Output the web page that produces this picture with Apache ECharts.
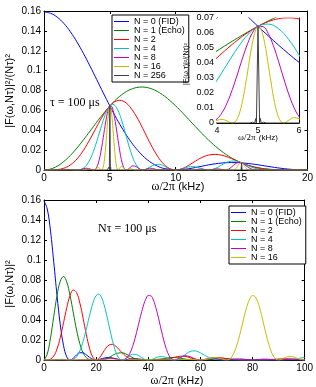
<!DOCTYPE html>
<html><head><meta charset="utf-8">
<script src="https://cdn.jsdelivr.net/npm/echarts@6/dist/echarts.min.js"></script>
<style>html,body{margin:0;padding:0;background:#fff}#c{width:316px;height:387px}</style>
</head><body><div id="c"></div>
<script>
// ---------- series names / tick settings ----------
const seriesNames = ['N = 0 (FID)', 'N = 1 (Echo)', 'N = 2', 'N = 4', 'N = 8', 'N = 16', 'N = 256'];
const topXTicks = [0, 20, 5];      // min, max, interval (kHz)
const topYTicks = [0, 0.16, 0.02];
const insetXTicks = [4, 6, 1];
const insetYTicks = [0, 0.07, 0.01];
const botXTicks = [0, 100, 20];
const botYTicks = [0, 0.16, 0.02];

// ---------- upper panel: tau = 100 us, [frequency kHz, value] ----------
const topFID = [[0,0.159],[0.5,0.15769],[1,0.15383],[1.5,0.14758],[2,0.13915],[2.5,0.12888],[3,0.11716],[3.5,0.1044],[3.75,0.097782],[4,0.091074],[4.25,0.084329],[4.5,0.077609],[4.75,0.070963],[5,0.06444],[5.25,0.058089],[5.5,0.051953],[5.75,0.04607],[6,0.040477],[6.25,0.035202],[6.5,0.030271],[7,0.021519],[7.5,0.01432],[8,0.0086966],[8.5,0.0045958],[9,0.0018992],[9.5,0.0004368],[10,0],[10.5,0.00035756],[11,0.0012713],[11.5,0.0025107],[12,0.0038652],[12.5,0.0051552],[13,0.0062393],[13.5,0.0070175],[14,0.0074346],[14.5,0.0074747],[15,0.00716],[15.5,0.0065414],[16,0.0056921],[16.5,0.0046977],[17,0.0036486],[17.5,0.0026302],[18,0.0017178],[18.5,0.00097018],[19,0.00042613],[19.5,0.00010367],[20,0]];
const topN1 = [[0,0],[0.5,0.000977],[1,0.0038613],[1.5,0.008509],[2,0.014694],[2.5,0.022119],[3,0.030426],[3.5,0.03922],[3.75,0.043672],[4,0.048091],[4.25,0.052426],[4.5,0.056632],[4.75,0.060659],[5,0.064463],[5.25,0.068005],[5.5,0.071246],[5.75,0.074157],[6,0.076708],[6.25,0.078874],[6.5,0.080638],[7,0.082916],[7.5,0.083493],[8,0.082405],[8.5,0.079762],[9,0.075736],[9.5,0.07055],[10,0.064463],[10.5,0.057752],[11,0.0507],[11.5,0.043574],[12,0.036624],[12.5,0.030057],[13,0.024041],[13.5,0.018694],[14,0.014089],[14.5,0.010251],[15,0.0071625],[15.5,0.0047734],[16,0.0030056],[16.5,0.0017647],[17,0.00094751],[17.5,0.00045142],[18,0.00018141],[18.5,0.00005594],[19,0.0000107],[19.5,0.0000006],[20,0]];
const topN2 = [[0,0],[0.5,0.0000239],[1,0.00036872],[1.5,0.0017538],[2,0.0050766],[2.5,0.01106],[3,0.019914],[3.5,0.031136],[3.75,0.037276],[4,0.043499],[4.25,0.049569],[4.5,0.055246],[4.75,0.060285],[5,0.064463],[5.25,0.067586],[5.5,0.069503],[5.75,0.070115],[6,0.069383],[6.25,0.067323],[6.5,0.064018],[7,0.054269],[7.5,0.041747],[8,0.02847],[8.5,0.01644],[9,0.007232],[9.5,0.0017264],[10,0],[10.5,0.0014132],[11,0.0048413],[11.5,0.008981],[12,0.012653],[12.5,0.015029],[13,0.015735],[13.5,0.014841],[14,0.012744],[14.5,0.01],[15,0.0071625],[15.5,0.0046566],[16,0.0027186],[16.5,0.001401],[17,0.00062015],[17.5,0.00022571],[18,0.00006268],[18.5,0.0000115],[19,0],[20,0]];
const topN4 = [[0,0],[0.5,0.0000216],[1,0.00024133],[1.5,0.00060592],[2,0.00048477],[2.25,0.00018861],[2.5,0],[2.75,0.0003705],[3,0.0019016],[3.25,0.0052127],[3.5,0.010757],[3.75,0.018638],[4,0.028471],[4.25,0.039352],[4.5,0.049971],[4.75,0.05881],[5,0.064463],[5.25,0.065932],[5.5,0.062866],[5.75,0.055664],[6,0.045412],[6.25,0.033662],[6.5,0.022118],[6.75,0.012285],[7,0.0051821],[7.25,0.0011803],[7.5,0],[7.75,0.00085821],[8,0.0027186],[8.25,0.0045728],[8.5,0.0056799],[8.75,0.005705],[9,0.0047334],[9.5,0.0015616],[10,0],[10.5,0.0012783],[10.75,0.0023473],[11,0.0031687],[11.25,0.0034511],[11.5,0.0031028],[11.75,0.0022542],[12,0.0012082],[12.5,0],[13,0.0015025],[13.5,0.0051274],[14,0.0083411],[14.5,0.0090451],[15,0.0071625],[15.5,0.0042119],[16,0.0017793],[16.5,0.00048403],[17,0.0000592],[17.5,0],[18,0],[20,0]];
const topN8 = [[0,0],[0.25,0],[0.5,0.0000141],[0.75,0.0000327],[1,0.000023],[1.25,0],[1.5,0.0000579],[1.75,0.00022216],[2,0.00031729],[2.25,0.0001706],[2.5,0],[2.75,0.00033512],[3,0.0012446],[3.25,0.0018009],[3.5,0.0010272],[3.75,0],[3.875,0.00057164],[4,0.0027187],[4.125,0.0069814],[4.25,0.013596],[4.375,0.022393],[4.5,0.032707],[4.625,0.043415],[4.75,0.053194],[4.875,0.060613],[5,0.064463],[5.125,0.064183],[5.25,0.059636],[5.375,0.051541],[5.5,0.041146],[5.625,0.029864],[5.75,0.019231],[5.875,0.010476],[6,0.0043364],[6.125,0.00096971],[6.25,0],[6.5,0.0021121],[6.75,0.0042444],[7,0.0033917],[7.25,0.0010676],[7.5,0],[7.75,0.00077626],[8,0.0017793],[8.25,0.0015799],[8.5,0.00054237],[8.75,0],[9,0.000452],[9.25,0.0010953],[9.5,0.0010221],[9.75,0.00036721],[10,0],[10.25,0.00033225],[10.5,0.00083666],[10.75,0.000811],[11,0.00030258],[11.25,0],[11.5,0.00029629],[11.75,0.00077881],[12,0.00079078],[12.25,0.0003107],[12.5,0],[12.75,0.00034517],[13,0.0009834],[13.25,0.0011015],[13.5,0.00048962],[13.75,0],[14,0.00079649],[14.25,0.0031312],[14.5,0.0059201],[14.75,0.0075551],[15,0.0071625],[15.25,0.0051608],[15.5,0.0027567],[15.75,0.00099],[16,0.00016991],[16.25,0],[16.5,0.0000462],[16.75,0.0000678],[17,0.0000387],[17.25,0.0000085],[17.5,0],[20,0]];
const topN16 = [[0,0],[3.125,0],[3.25,0.00017197],[3.375,0.00054754],[3.5,0.00067231],[3.625,0.00031931],[3.75,0],[3.875,0.00051706],[4,0.0017794],[4.125,0.002412],[4.25,0.0012983],[4.375,0],[4.4375,0.00067104],[4.5,0.0031234],[4.5625,0.0078506],[4.625,0.014999],[4.6875,0.02426],[4.75,0.034816],[4.8125,0.045488],[4.875,0.054826],[4.9375,0.061493],[5,0.064463],[5.0625,0.063266],[5.125,0.058056],[5.1875,0.049555],[5.25,0.039033],[5.3125,0.02799],[5.375,0.017808],[5.4375,0.0095826],[5.5,0.0039294],[5.5625,0.00086979],[5.625,0],[5.75,0.0018364],[5.875,0.0036194],[6,0.0028384],[6.125,0.00087714],[6.25,0],[6.375,0.00061466],[6.5,0.0013823],[6.625,0.0012042],[6.75,0.00040531],[6.875,0],[14.375,0],[14.5,0.00056538],[14.625,0.0024],[14.75,0.004945],[14.875,0.0069],[15,0.0071625],[15.125,0.0057],[15.25,0.0033779],[15.375,0.00136],[15.5,0.00026327],[15.625,0],[20,0]];
const topN256 = [[0,0],[4.8,0],[4.8438,0],[4.8645,0.00053],[4.8828,0],[4.9039,0.00105],[4.9219,0],[4.9441,0.00296],[4.9609,0],[5,0.064463],[5.0391,0],[5.0559,0.00308],[5.0781,0],[5.0961,0.0011],[5.1172,0],[5.1355,0.00056],[5.1563,0],[5.2,0],[14.961,0],[15,0.0071625],[15.039,0],[20,0]];

// ---------- lower panel: N*tau = 100 us ----------
const botFID = [[0,0.159],[1.25,0.15099],[2.5,0.12888],[3.75,0.097782],[5,0.06444],[6.25,0.035202],[7.5,0.01432],[8.75,0.0030815],[10,0],[11.25,0.0018641],[12.5,0.0051552],[13.75,0.0072731],[15,0.00716],[16.25,0.0052073],[17.5,0.0026302],[18.75,0.00067109],[20,0],[22.5,0.0015911],[25,0.0025776],[27.5,0.0010651],[30,0],[32.5,0.0007626],[35,0.0013151],[37.5,0.0005728],[40,0],[42.5,0.00044595],[45,0.00079556],[47.5,0.00035701],[50,0],[52.5,0.00029225],[55,0.00053256],[57.5,0.00024363],[60,0],[62.5,0.00020621],[65,0.0003813],[67.5,0.00017679],[70,0],[72.5,0.00015325],[75,0.0002864],[77.5,0.00013411],[80,0],[82.5,0.00011835],[85,0.00022298],[87.5,0.0001052],[90,0],[92.5,0.0000941],[95,0.0001785],[97.5,0.0000847],[100,0]];
const botN1 = [[0,0],[1.25,0.0059764],[2.5,0.022119],[3.75,0.043672],[5,0.064463],[6.25,0.078874],[7.5,0.08349],[8.75,0.077909],[10,0.06446],[11.25,0.04713],[12.5,0.030056],[13.75,0.016296],[15,0.0071622],[16.25,0.0023258],[17.5,0.0004514],[18.75,0.0000266],[20,0],[22.5,0.00027307],[25,0.0025784],[27.5,0.00621],[30,0.0071622],[32.5,0.0044462],[35,0.0013155],[37.5,0.0000983],[40,0],[42.5,0.0000765],[45,0.0007958],[47.5,0.0020815],[50,0.0025784],[52.5,0.0017039],[55,0.00053273],[57.5,0.0000418],[60,0],[62.5,0.0000354],[65,0.00038142],[67.5,0.0010307],[70,0.0013155],[72.5,0.00089347],[75,0.00028649],[77.5,0.000023],[80,0],[82.5,0.0000203],[85,0.00022304],[87.5,0.00061339],[90,0.0007958],[92.5,0.00054888],[95,0.00017856],[97.5,0.0000145],[100,0]];
const botN2 = [[0,0],[1.25,0.000058],[2.5,0.00087525],[3.75,0.0040185],[5,0.01106],[6.25,0.022533],[7.5,0.037276],[8.75,0.052471],[10,0.064463],[11.25,0.069974],[12.5,0.067323],[13.75,0.057038],[15,0.041747],[16.25,0.025273],[17.5,0.01141],[18.75,0.002738],[20,0],[21.25,0.0021316],[22.5,0.0069022],[23.75,0.011832],[25,0.015029],[26.25,0.01565],[27.5,0.01391],[28.75,0.010714],[30,0.0071625],[31.25,0.0041138],[32.5,0.0019852],[33.75,0.00077278],[35,0.00022571],[36.25,0.000043],[37.5,0.0000039],[40,0],[42.5,0.000003],[45,0.00013654],[47.5,0.00092927],[50,0.0025784],[52.5,0.0038163],[55,0.003105],[57.5,0.0010568],[60,0],[62.5,0.0008945],[65,0.0022231],[67.5,0.0023087],[70,0.0013155],[72.5,0.00039891],[75,0.000049],[77.5,0.000001],[80,0],[82.5,0],[85,0.000038],[87.5,0.00027386],[90,0.0007958],[92.5,0.0012294],[95,0.0010408],[97.5,0.00036756],[100,0]];
const botN4 = [[0,0],[2,0.0000216],[4,0.00024133],[6,0.00060592],[7,0.00064302],[8,0.00048477],[9,0.00018861],[10,0],[11,0.0003705],[12,0.0019016],[13,0.0052127],[14,0.010757],[15,0.018638],[16,0.028471],[17,0.039352],[18,0.049971],[19,0.05881],[20,0.064463],[21,0.065932],[22,0.062866],[23,0.055664],[24,0.045412],[25,0.033662],[26,0.022118],[27,0.012285],[28,0.0051821],[29,0.0011803],[30,0],[31,0.00085821],[32,0.0027186],[33,0.0045728],[34,0.0056799],[35,0.005705],[36,0.0047334],[37,0.0031703],[38,0.0015616],[39,0.00040598],[40,0],[41,0.00036733],[42,0.0012783],[43,0.0023473],[44,0.0031687],[45,0.0034511],[46,0.0031028],[47,0.0022542],[48,0.0012082],[49,0.00034349],[50,0],[51,0.00038161],[52,0.0015025],[53,0.0031883],[54,0.0051274],[55,0.006955],[56,0.0083411],[57,0.009063],[58,0.0090451],[59,0.0083527],[60,0.0071625],[61,0.0057056],[62,0.0042119],[63,0.0028655],[64,0.0017793],[65,0.0009926],[66,0.00048403],[67,0.00019625],[68,0.0000592],[69,0.0000094],[70,0],[80,0],[88,0.000004],[90,0],[92,0.000032],[94,0.0002386],[96,0.00079079],[98,0.0016858],[100,0.0025784]];
const botN8 = [[0,0],[4,0.0000141],[6,0.0000327],[8,0.000023],[10,0],[12,0.0000579],[14,0.00022216],[16,0.00031729],[18,0.0001706],[20,0],[22,0.00033512],[24,0.0012446],[26,0.0018009],[28,0.0010272],[30,0],[31,0.00057164],[32,0.0027187],[33,0.0069814],[34,0.013596],[35,0.022393],[36,0.032707],[37,0.043415],[38,0.053194],[39,0.060613],[40,0.064463],[41,0.064183],[42,0.059636],[43,0.051541],[44,0.041146],[45,0.029864],[46,0.019231],[47,0.010476],[48,0.0043364],[49,0.00096971],[50,0],[52,0.0021121],[54,0.0042444],[56,0.0033917],[58,0.0010676],[60,0],[62,0.00077626],[64,0.0017793],[66,0.0015799],[68,0.00054237],[70,0],[72,0.000452],[74,0.0010953],[76,0.0010221],[78,0.00036721],[80,0],[82,0.00033225],[84,0.00083666],[86,0.000811],[88,0.00030258],[90,0],[92,0.00029629],[94,0.00077881],[96,0.00079078],[98,0.0003107],[100,0]];
const botN16 = [[0,0],[50,0],[52,0.00017197],[54,0.00054754],[56,0.00067231],[58,0.00031931],[60,0],[62,0.00051706],[64,0.0017794],[66,0.002412],[68,0.0012983],[70,0],[71,0.00067104],[72,0.0031234],[73,0.0078506],[74,0.014999],[75,0.02426],[76,0.034816],[77,0.045488],[78,0.054826],[79,0.061493],[80,0.064463],[81,0.063266],[82,0.058056],[83,0.049555],[84,0.039033],[85,0.02799],[86,0.017808],[87,0.0095826],[88,0.0039294],[89,0.00086979],[90,0],[92,0.0018364],[94,0.0036194],[96,0.0028384],[98,0.00087714],[100,0]];

const topData = [topFID, topN1, topN2, topN4, topN8, topN16, topN256];
const botData = [botFID, botN1, botN2, botN4, botN8, botN16];
const colors = ['#0000ff', '#008000', '#ff0000', '#00bfbf', '#bf00bf', '#bfbf00', '#404040'];

const SANS = 'Liberation Sans, Arial, sans-serif';
const SERIF = 'Liberation Serif, Times New Roman, serif';

function fmt(v) { return v === 0 ? '0' : String(Number(v.toFixed(3))); }
function xAx(grid, t, pos, labels, fs) {
  return { type: 'value', gridIndex: grid, min: t[0], max: t[1], interval: t[2], position: pos,
    axisLine: { show: true, onZero: false, lineStyle: { color: '#000', width: 1 } },
    axisTick: { show: true, inside: true, length: 3, lineStyle: { color: '#000' } },
    axisLabel: { show: labels, color: '#000', fontSize: fs, fontFamily: SANS, margin: 3, formatter: fmt },
    splitLine: { show: false } };
}
function yAx(grid, t, pos, labels, fs) {
  return { type: 'value', gridIndex: grid, min: t[0], max: t[1], interval: t[2], position: pos,
    axisLine: { show: true, onZero: false, lineStyle: { color: '#000', width: 1 } },
    axisTick: { show: true, inside: true, length: 3, lineStyle: { color: '#000' } },
    axisLabel: { show: labels, color: '#000', fontSize: fs, fontFamily: SANS, margin: 3, formatter: fmt },
    splitLine: { show: false } };
}

const series = [];
function addSeries(datas, axisIdx, zBase) {
  datas.forEach((d, k) => {
    series.push({ type: 'line', name: seriesNames[k], data: d, xAxisIndex: axisIdx, yAxisIndex: axisIdx,
      symbol: 'none', smooth: k === 6 ? false : 0.4, clip: true, z: zBase,
      lineStyle: { color: colors[k], width: 1 }, itemStyle: { color: colors[k] } });
  });
}
addSeries(topData, 0, 2);
addSeries(topData, 2, 6);
addSeries(botData, 4, 2);

const legendCommon = { orient: 'vertical', icon: 'rect', itemWidth: 15, itemHeight: 1, itemGap: 0,
  padding: [2, 4, 2, 2], borderColor: '#000', borderWidth: 1, backgroundColor: '#fff', selectedMode: false, z: 10 };

const option = {
  animation: false,
  backgroundColor: '#fff',
  grid: [
    { left: 44, top: 11, width: 264, height: 159 },
    { left: 217, top: 18, width: 82, height: 105, show: true, backgroundColor: '#fff', borderWidth: 0, z: 5 },
    { left: 44, top: 200, width: 264, height: 160 }
  ],
  xAxis: [
    xAx(0, topXTicks, 'bottom', true, 10), xAx(0, topXTicks, 'top', false, 10),
    xAx(1, insetXTicks, 'bottom', true, 9), xAx(1, insetXTicks, 'top', false, 9),
    xAx(2, botXTicks, 'bottom', true, 10), xAx(2, botXTicks, 'top', false, 10)
  ],
  yAxis: [
    yAx(0, topYTicks, 'left', true, 10), yAx(0, topYTicks, 'right', false, 10),
    yAx(1, insetYTicks, 'left', true, 9), yAx(1, insetYTicks, 'right', false, 9),
    yAx(2, botYTicks, 'left', true, 10), yAx(2, botYTicks, 'right', false, 10)
  ],
  legend: [
    Object.assign({}, legendCommon, { data: seriesNames, left: 112, top: 15,
      textStyle: { fontSize: 9, fontFamily: SANS, color: '#000', lineHeight: 8.8 } }),
    Object.assign({}, legendCommon, { data: seriesNames.slice(0, 6), left: 229, top: 206,
      textStyle: { fontSize: 9, fontFamily: SANS, color: '#000', lineHeight: 8.4 } })
  ],
  graphic: [
    { type: 'text', x: 10, y: 91, rotation: Math.PI / 2, z: 20,
      style: { text: '|F(ω,Nτ)|²/(Nτ)²', font: '11px ' + SANS, fill: '#000', textAlign: 'center', textVerticalAlign: 'middle' } },
    { type: 'text', x: 178, y: 187, z: 20,
      style: { text: '{a|ω/2π} {b|(kHz)}', rich: { a: { fontFamily: SERIF, fontSize: 12 }, b: { fontFamily: SANS, fontSize: 11 } }, fill: '#000', textAlign: 'center', textVerticalAlign: 'middle' } },
    { type: 'text', x: 50, y: 103, z: 20,
      style: { text: 'τ = 100 μs', font: '12px ' + SERIF, fill: '#000', textAlign: 'left', textVerticalAlign: 'middle' } },
    { type: 'text', x: 186, y: 64, rotation: Math.PI / 2, z: 20,
      style: { text: '|F(ω,τ)|²/(Nτ)²', font: '7px ' + SANS, fill: '#000', textAlign: 'center', textVerticalAlign: 'middle' } },
    { type: 'text', x: 258, y: 138, z: 20,
      style: { text: '{a|ω/2π} {b|(kHz)}', rich: { a: { fontFamily: SERIF, fontSize: 9 }, b: { fontFamily: SANS, fontSize: 8 } }, fill: '#000', textAlign: 'center', textVerticalAlign: 'middle' } },
    { type: 'text', x: 10, y: 284, rotation: Math.PI / 2, z: 20,
      style: { text: '|F(ω,Nτ)|²', font: '11px ' + SANS, fill: '#000', textAlign: 'center', textVerticalAlign: 'middle' } },
    { type: 'text', x: 177, y: 381, z: 20,
      style: { text: '{a|ω/2π} {b|(kHz)}', rich: { a: { fontFamily: SERIF, fontSize: 12 }, b: { fontFamily: SANS, fontSize: 11 } }, fill: '#000', textAlign: 'center', textVerticalAlign: 'middle' } },
    { type: 'text', x: 98, y: 229, z: 20,
      style: { text: 'Nτ = 100 μs', font: '12px ' + SERIF, fill: '#000', textAlign: 'left', textVerticalAlign: 'middle' } }
  ],
  series: series
};
const chart = echarts.init(document.getElementById('c'));
chart.setOption(option);
</script>
</body></html>
